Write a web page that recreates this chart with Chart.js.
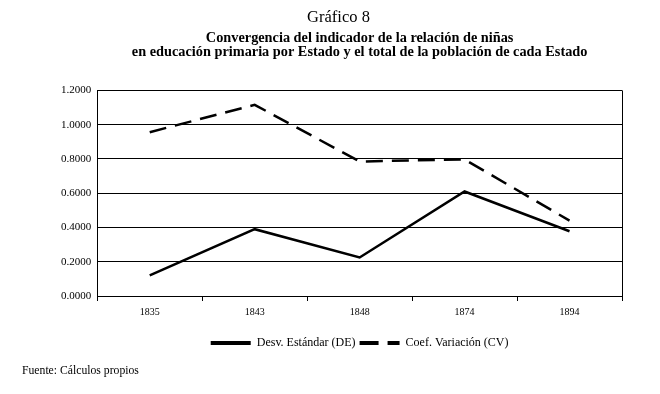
<!DOCTYPE html>
<html>
<head>
<meta charset="utf-8">
<script src="https://cdn.jsdelivr.net/npm/chart.js@4"></script>
<style>
    body { margin: 0; background: #fff; }
    #wrap { position: relative; width: 660px; height: 394px; }
    #fuente { position: absolute; left: 22px; top: 364px; font: 11.7px "Liberation Serif", serif; color: #000; }
</style>
</head>
<body>
<div id="wrap">
    <canvas id="chart" width="660" height="394"></canvas>
    <div id="fuente">Fuente: Cálculos propios</div>
</div>
<script>
// Data
const years = ['1835', '1843', '1848', '1874', '1894'];
const desvEstandar = [0.12, 0.39, 0.225, 0.61, 0.378];
const coefVariacion = [0.956, 1.116, 0.785, 0.797, 0.44];
const yTicks = [0, 0.2, 0.4, 0.6, 0.8, 1.0, 1.2];

const serif = 'Liberation Serif';

const ctx = document.getElementById('chart').getContext('2d');
const chart = new Chart(ctx, {
    type: 'line',
    data: {
        labels: years,
        datasets: [{
            label: 'Desv. Estándar (DE)',
            data: desvEstandar,
            borderColor: '#000',
            borderWidth: 2.5,
            pointRadius: 0,
            tension: 0,
            fill: false
        }, {
            label: 'Coef. Variación (CV)',
            data: coefVariacion,
            borderColor: '#000',
            borderWidth: 2.5,
            borderDash: [17, 9],
            pointRadius: 0,
            tension: 0,
            fill: false
        }]
    },
    options: {
        responsive: false,
        animation: false,
        layout: {
            padding: { left: 55, right: 38, bottom: 35 }
        },
        plugins: {
            title: {
                display: true,
                text: 'Gráfico 8',
                color: '#000',
                font: { family: serif, size: 16.5, weight: 'normal' },
                padding: { top: 8, bottom: 2 }
            },
            subtitle: {
                display: true,
                fullSize: false,
                text: ['Convergencia del indicador de la relación de niñas',
                       'en educación primaria por Estado y el total de la población de cada Estado'],
                color: '#000',
                font: { family: serif, size: 14.3, weight: 'bold', lineHeight: 1.0 },
                padding: { top: 1, bottom: 31 }
            },
            legend: {
                position: 'bottom',
                fullSize: false,
                labels: {
                    color: '#000',
                    font: { family: serif, size: 12 },
                    usePointStyle: true,
                    pointStyle: 'line',
                    pointStyleWidth: 40,
                    padding: 4,
                    generateLabels: function(chart) {
                        const items = Chart.defaults.plugins.legend.labels.generateLabels(chart);
                        items.forEach(function(item, i) {
                            item.lineWidth = 4;
                            item.lineDash = i === 1 ? [19, 9] : [];
                        });
                        return items;
                    }
                }
            },
            tooltip: { enabled: false }
        },
        scales: {
            x: {
                offset: true,
                afterFit: function(axis) { axis.height += 10; },
                grid: {
                    offset: true,
                    color: function(c) { return c.index === undefined ? '#000' : 'rgba(0,0,0,0)'; },
                    tickColor: '#000',
                    tickLength: 5,
                    lineWidth: 1
                },
                border: { color: '#000', width: 1 },
                ticks: {
                    color: '#000',
                    font: { family: serif, size: 10 },
                    padding: 5,
                    maxRotation: 0
                }
            },
            y: {
                min: 0,
                max: 1.2,
                afterBuildTicks: function(axis) {
                    axis.ticks = yTicks.map(function(v) { return { value: v }; });
                },
                grid: {
                    color: '#000',
                    lineWidth: 1,
                    drawTicks: false
                },
                border: { color: '#000', width: 1 },
                ticks: {
                    color: '#000',
                    font: { family: serif, size: 11 },
                    padding: 6,
                    callback: function(v) { return Number(v).toFixed(4); }
                }
            }
        }
    }
});
</script>
</body>
</html>
